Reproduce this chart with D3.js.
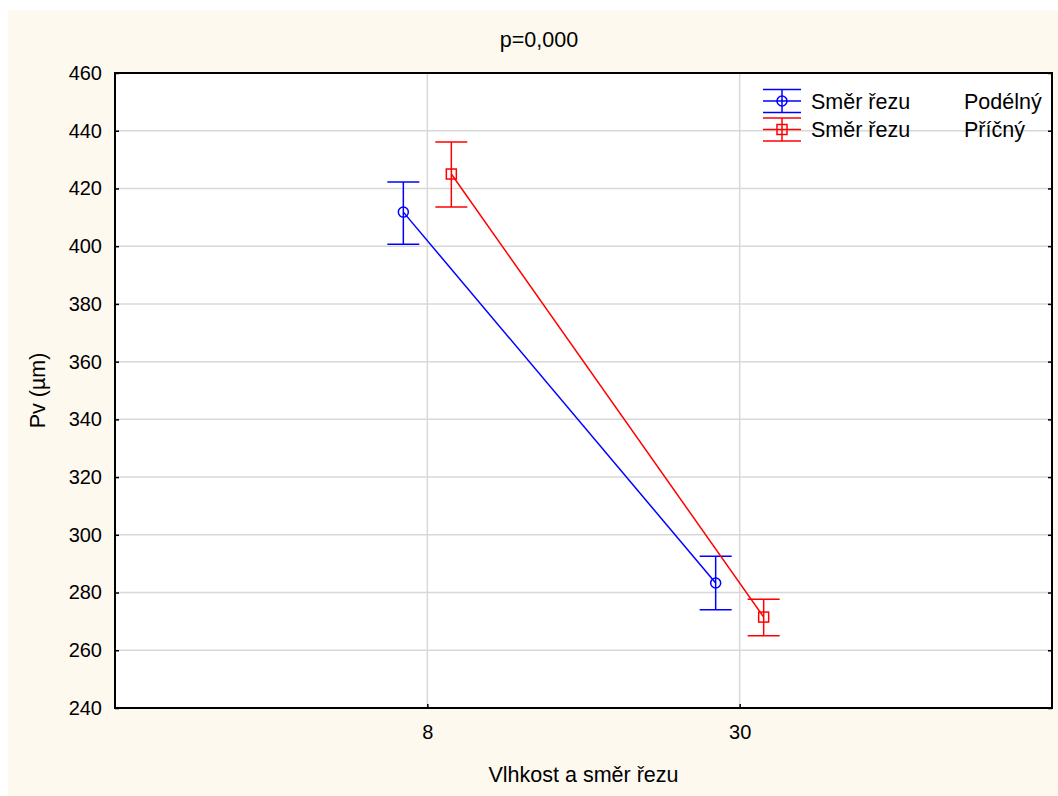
<!DOCTYPE html>
<html>
<head>
<meta charset="utf-8">
<script src="https://cdn.jsdelivr.net/npm/d3@7"></script>
<style>
  body { margin: 0; background: #fff; }
  text { font-family: "Liberation Sans", Arial, sans-serif; fill: #000; }
</style>
</head>
<body>
<svg id="chart" width="1058" height="796"></svg>
<script>
// categories on the x axis
var categories = ["8", "30"];
// series: means with upper / lower error limits
var seriesNames = ["Podélný", "Příčný"];
var podelnyMean = [411.8, 283.3];
var podelnyHigh = [422.2, 292.6];
var podelnyLow = [400.7, 274.0];
var pricnyMean = [425.0, 271.5];
var pricnyHigh = [436.1, 277.7];
var pricnyLow = [413.6, 265.0];
var yTicks = [240, 260, 280, 300, 320, 340, 360, 380, 400, 420, 440, 460];

var series = [
    { name: seriesNames[0], color: "#0000FF", shape: "circle", offset: -24,
      mean: podelnyMean, hi: podelnyHigh, lo: podelnyLow },
    { name: seriesNames[1], color: "#FF0000", shape: "square", offset: 24,
      mean: pricnyMean, hi: pricnyHigh, lo: pricnyLow }
];

var svg = d3.select('#chart');
var pLeft = 115, pTop = 73, pRight = 1052, pBottom = 708;
var fs = 20, fsBig = 21.5;

// cream page background
svg.append('rect')
    .attr('x', 8).attr('y', 10)
    .attr('width', 1050).attr('height', 786)
    .attr('fill', '#FEF9EF');

svg.append('rect')
    .attr('x', pLeft).attr('y', pTop)
    .attr('width', pRight - pLeft).attr('height', pBottom - pTop)
    .attr('fill', '#FFFFFF');

var x = d3.scalePoint().domain(categories).range([pLeft, pRight]).padding(1);
var y = d3.scaleLinear().domain([240, 460]).range([pBottom, pTop]);

// grid
var grid = svg.append('g');
grid.selectAll('line.h')
    .data(yTicks.slice(1, -1)).enter()
    .append('line')
    .attr('x1', pLeft).attr('x2', pRight)
    .attr('y1', function(d) { return y(d); })
    .attr('y2', function(d) { return y(d); })
    .attr('stroke', '#D8D8D8').attr('stroke-width', 1.5);
grid.selectAll('line.v')
    .data(categories).enter()
    .append('line')
    .attr('y1', pTop).attr('y2', pBottom)
    .attr('x1', function(d) { return x(d); })
    .attr('x2', function(d) { return x(d); })
    .attr('stroke', '#D8D8D8').attr('stroke-width', 1.5);

// axes (ticks pointing inwards)
var yAxis = svg.append('g')
    .attr('transform', 'translate(' + pLeft + ',0)')
    .call(d3.axisLeft(y).tickValues(yTicks).tickSize(-4).tickPadding(13));
var yAxisR = svg.append('g')
    .attr('transform', 'translate(' + pRight + ',0)')
    .call(d3.axisRight(y).tickValues(yTicks).tickSize(-4).tickFormat(''));
var xAxis = svg.append('g')
    .attr('transform', 'translate(0,' + pBottom + ')')
    .call(d3.axisBottom(x).tickSize(-4).tickPadding(17));

[yAxis, yAxisR, xAxis].forEach(function(a) {
    a.select('.domain').remove();
    a.selectAll('.tick line').attr('stroke', '#000').attr('stroke-width', 1.5);
    a.selectAll('text').attr('font-size', fs)
        .style('font-family', '"Liberation Sans", Arial, sans-serif');
});

svg.append('rect')
    .attr('x', pLeft).attr('y', pTop)
    .attr('width', pRight - pLeft).attr('height', pBottom - pTop)
    .attr('fill', 'none').attr('stroke', '#000').attr('stroke-width', 2);

// lines, error bars, markers
var capW = 16;
series.forEach(function(s) {
    var pts = categories.map(function(c, i) {
        return { x: x(c) + s.offset, m: s.mean[i], hi: s.hi[i], lo: s.lo[i] };
    });
    var g = svg.append('g');
    g.append('path')
        .datum(pts)
        .attr('d', d3.line().x(function(d) { return d.x; }).y(function(d) { return y(d.m); }))
        .attr('fill', 'none').attr('stroke', s.color).attr('stroke-width', 1.5);

    var eb = g.selectAll('g.eb').data(pts).enter().append('g');
    eb.append('line')
        .attr('x1', function(d) { return d.x; }).attr('x2', function(d) { return d.x; })
        .attr('y1', function(d) { return y(d.hi); }).attr('y2', function(d) { return y(d.lo); })
        .attr('stroke', s.color).attr('stroke-width', 1.5);
    ['hi', 'lo'].forEach(function(k) {
        eb.append('line')
            .attr('x1', function(d) { return d.x - capW; })
            .attr('x2', function(d) { return d.x + capW; })
            .attr('y1', function(d) { return y(d[k]); })
            .attr('y2', function(d) { return y(d[k]); })
            .attr('stroke', s.color).attr('stroke-width', 1.5);
    });
    if (s.shape === 'circle') {
        eb.append('circle')
            .attr('cx', function(d) { return d.x; })
            .attr('cy', function(d) { return y(d.m); })
            .attr('r', 5)
            .attr('fill', 'none').attr('stroke', s.color).attr('stroke-width', 1.5);
    } else {
        eb.append('rect')
            .attr('x', function(d) { return d.x - 5; })
            .attr('y', function(d) { return y(d.m) - 5; })
            .attr('width', 10).attr('height', 10)
            .attr('fill', 'none').attr('stroke', s.color).attr('stroke-width', 1.5);
    }
});

// legend
var legend = svg.append('g');
series.forEach(function(s, i) {
    var cy = 101 + i * 28.5, cx = 782;
    var lg = legend.append('g');
    [-11.5, 0, 11.5].forEach(function(dy) {
        lg.append('line')
            .attr('x1', cx - 19).attr('x2', cx + 19)
            .attr('y1', cy + dy).attr('y2', cy + dy)
            .attr('stroke', s.color).attr('stroke-width', 1.5);
    });
    lg.append('line')
        .attr('x1', cx).attr('x2', cx)
        .attr('y1', cy - 11.5).attr('y2', cy + 11.5)
        .attr('stroke', s.color).attr('stroke-width', 1.5);
    if (s.shape === 'circle') {
        lg.append('circle').attr('cx', cx).attr('cy', cy).attr('r', 5)
            .attr('fill', 'none').attr('stroke', s.color).attr('stroke-width', 1.5);
    } else {
        lg.append('rect').attr('x', cx - 5).attr('y', cy - 5)
            .attr('width', 10).attr('height', 10)
            .attr('fill', 'none').attr('stroke', s.color).attr('stroke-width', 1.5);
    }
    lg.append('text').attr('x', 811).attr('y', cy + 7.5)
        .attr('font-size', fsBig).text('Směr řezu');
    lg.append('text').attr('x', 964).attr('y', cy + 7.5)
        .attr('font-size', fsBig).text(s.name);
});

// titles
svg.append('text')
    .attr('x', 539).attr('y', 47)
    .attr('text-anchor', 'middle').attr('font-size', fsBig)
    .text('p=0,000');
svg.append('text')
    .attr('x', (pLeft + pRight) / 2).attr('y', 782)
    .attr('text-anchor', 'middle').attr('font-size', fsBig)
    .text('Vlhkost a směr řezu');
svg.append('text')
    .attr('transform', 'translate(45,' + ((pTop + pBottom) / 2) + ') rotate(-90)')
    .attr('text-anchor', 'middle').attr('font-size', fsBig)
    .text('Pv (µm)');
</script>
</body>
</html>
